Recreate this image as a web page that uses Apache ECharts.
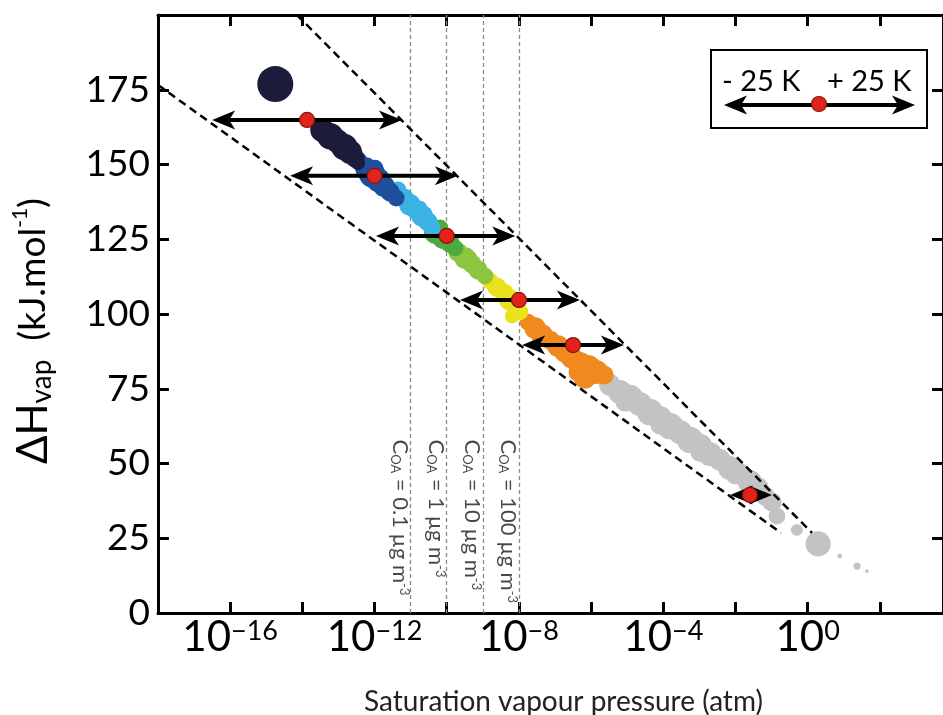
<!DOCTYPE html>
<html><head><meta charset="utf-8">
<script src="https://cdn.jsdelivr.net/npm/echarts/dist/echarts.min.js"></script>
<style>html,body{margin:0;padding:0;background:#fff}#c{width:943px;height:715px}</style>
</head><body><div id="c"></div>
<script>
// Each point: [log10(p_sat / atm), ΔHvap (kJ/mol), marker weight]
const navy = [[-14.75,176.9,30],[-13.45,161.5,20],[-13.23,159.5,22],[-13.04,157.9,20],[-12.84,155.9,22],[-12.68,154.2,20],[-12.54,152.2,16],[-12.46,150.5,12]];
const blue = [[-12.40,151.5,12],[-12.24,148.8,18],[-12.07,146.8,22],[-11.90,144.8,20],[-11.74,142.8,18],[-11.57,140.8,16],[-11.40,138.8,14],[-11.99,148.8,14]];
const lightBlue = [[-11.35,141.5,14],[-11.18,138.8,16],[-11.02,136.5,18],[-10.85,134.8,16],[-10.68,132.8,18],[-10.52,130.8,16],[-10.41,128.8,14],[-10.74,135.5,12]];
const green = [[-10.30,127.4,20],[-10.10,125.4,18],[-9.91,123.7,16],[-10.19,128.8,14],[-9.77,122.1,14]];
const lime = [[-9.69,120.7,16],[-9.49,118.7,18],[-9.30,116.7,16],[-9.13,114.7,16],[-8.94,112.7,14],[-9.35,118.7,12]];
const yellow = [[-8.80,111.0,14],[-8.61,109.0,16],[-8.41,107.0,16],[-8.25,104.7,18],[-8.08,102.7,16],[-7.97,100.7,14],[-8.19,99.3,12]];
const orange = [[-7.75,97.3,14],[-7.55,95.3,18],[-7.36,93.0,18],[-7.14,91.3,16],[-6.92,89.3,18],[-6.72,87.3,18],[-6.53,85.3,18],[-6.31,83.3,20],[-6.09,81.9,22],[-5.86,80.6,20],[-5.64,79.6,16],[-6.17,78.6,18],[-6.36,80.6,16]];
const gray = [[-5.48,76.3,18],[-5.20,73.9,20],[-4.92,71.9,22],[-4.65,69.9,20],[-4.37,67.2,22],[-4.09,65.2,20],[-3.81,62.5,22],[-3.54,60.5,20],[-3.26,57.9,22],[-2.98,55.9,20],[-2.71,53.2,20],[-2.43,51.2,18],[-2.15,48.5,20],[-1.88,46.5,18],[-1.60,43.8,20],[-1.38,41.8,18],[-1.18,39.1,16],[-0.99,37.1,16],[-0.85,32.4,14],[-0.30,27.8,10],[0.29,23.1,21],[0.89,19.1,4],[1.37,15.7,6],[1.64,14.0,3],[-0.97,35.8,3],[-5.06,70.6,16],[-4.09,62.9,16],[-2.98,53.8,16],[-2.02,45.8,14]];

// envelope lines [log10 p, ΔH]
const envelopeUpper = [[-14.15,200],[0.12,26.8]];
const envelopeLower = [[-18.0,176.6],[-0.74,26.8]];

// ±25 K arrows: [left log10 p, right log10 p, ΔH]
const arrows = [[-16.5,-11.24,164.9],[-14.34,-9.69,146.2],[-11.96,-8.10,126.1],[-9.63,-6.31,104.7],[-7.91,-5.09,89.6],[-2.15,-0.99,39.5]];
// central points [log10 p, ΔH]
const centres = [[-13.87,164.9],[-12.0,146.2],[-10.0,126.1],[-8.0,104.7],[-6.5,89.6],[-1.6,39.5]];

// C_OA reference lines
const coaX = [-11,-10,-9,-8];
const coaText = ['0.1','1','10','100'];
const coaLabelH = 58;

const xMin = -18, xMax = 3.75, xStep = 2, xLabelEvery = 4;
const yMin = 0, yMax = 200, yStep = 25;

const FONT = 'Lato';
const SIZE_SCALE = 1.2;
const chart = echarts.init(document.getElementById('c'), null, {renderer:'canvas'});

function groupSeries(name, data, color, z) {
  return {name, type:'scatter', data, z, symbolSize: v => v[2] * SIZE_SCALE,
    itemStyle:{color, opacity:1}, silent:true, animation:false};
}
function dashedLine(data) {
  return {type:'line', data, symbol:'none', z:13, animation:false, silent:true,
    lineStyle:{color:'#000', width:2.5, type:[8,5]}};
}
const axisLineStyle = {color:'#000', width:3};
const tickStyle = {inside:true, length:11, lineStyle:{width:3, color:'#000'}};

const option = {
  animation:false,
  backgroundColor:'#fff',
  grid:{left:158, right:0, top:15, bottom:102, containLabel:false, outerBoundsMode:'none'},
  xAxis:[{
    type:'value', min:xMin, max:xMax, interval:xStep, position:'bottom',
    splitLine:{show:false},
    axisLine:{onZero:false, lineStyle:axisLineStyle},
    axisTick:tickStyle,
    axisLabel:{margin:5, color:'#000',
      formatter: v => (v % xLabelEvery === 0) ? '{b|10}{s|' + (v < 0 ? '\u2212' + Math.abs(v) : v) + '}' : '',
      rich:{b:{fontFamily:FONT, fontSize:42, color:'#000', padding:[32,0,0,0], lineHeight:40, verticalAlign:'bottom'},
            s:{fontFamily:FONT, fontSize:27, color:'#000', lineHeight:24, verticalAlign:'top'}}},
    name:'Saturation vapour pressure (atm)', nameLocation:'middle', nameGap:75,
    nameTextStyle:{fontFamily:FONT, fontSize:28, color:'#222', padding:[0,0,0,26]}
  },{
    type:'value', min:xMin, max:xMax, interval:xStep, position:'top',
    splitLine:{show:false}, axisLabel:{show:false},
    axisLine:{onZero:false, lineStyle:axisLineStyle},
    axisTick:tickStyle
  }],
  yAxis:[{
    type:'value', min:yMin, max:yMax, interval:yStep, position:'left',
    splitLine:{show:false},
    axisLine:{onZero:false, lineStyle:axisLineStyle},
    axisTick:tickStyle,
    axisLabel:{margin:8, color:'#000', fontFamily:FONT, fontSize:37,
      formatter: v => v === yMax ? '' : String(v)}
  },{
    type:'value', min:yMin, max:yMax, interval:yStep, position:'right',
    splitLine:{show:false}, axisLabel:{show:false},
    axisLine:{onZero:false, lineStyle:axisLineStyle},
    axisTick:tickStyle
  }],
  series:[
    // C_OA vertical lines
    {type:'line', data:[], silent:true, z:2,
      markLine:{silent:true, symbol:'none', animation:false, label:{show:false},
        lineStyle:{color:'#8a8a8a', width:1.3, type:[4,3]},
        data: coaX.map(x => ({xAxis:x}))}},
    {type:'scatter', silent:true, z:3, symbolSize:1, itemStyle:{color:'transparent'},
      data: coaX.map((x,i) => [x, coaLabelH, coaText[i]]),
      label:{show:true, position:'inside', rotate:-90, align:'left', verticalAlign:'top', offset:[0,0],
        formatter: p => '{t|C}{sub|OA}{t| = ' + p.value[2] + ' \u00b5g m}{sup|-3}',
        rich:{t:{fontFamily:FONT, fontSize:22, color:'#1a1a1a', lineHeight:22, verticalAlign:'middle'},
              sub:{fontFamily:FONT, fontSize:13, color:'#1a1a1a', lineHeight:12, verticalAlign:'bottom'},
              sup:{fontFamily:FONT, fontSize:13, color:'#1a1a1a', lineHeight:12, verticalAlign:'top'}}}},
    groupSeries('gray', gray, '#c3c3c3', 5),
    groupSeries('orange', orange, '#f08a1e', 6),
    groupSeries('yellow', yellow, '#e9e21c', 7),
    groupSeries('lime', lime, '#8cc540', 8),
    groupSeries('green', green, '#4caa3e', 9),
    groupSeries('lightBlue', lightBlue, '#3bb3e5', 10),
    groupSeries('blue', blue, '#1f4f9c', 11),
    groupSeries('navy', navy, '#1b1b3a', 12),
    dashedLine(envelopeUpper),
    dashedLine(envelopeLower),
    {type:'custom', data:arrows, z:14, silent:true, animation:false,
      encode:{x:[0,1], y:2},
      renderItem:function(params, api){
        const y = api.value(2);
        const a = api.coord([api.value(0), y]);
        const b = api.coord([api.value(1), y]);
        const L = 23, W = 9.5, N = 17;
        return {type:'group', children:[
          {type:'line', shape:{x1:a[0]+N, y1:a[1], x2:b[0]-N, y2:b[1]}, style:{stroke:'#000', lineWidth:4}},
          {type:'polygon', shape:{points:[[a[0],a[1]],[a[0]+L,a[1]-W],[a[0]+N,a[1]],[a[0]+L,a[1]+W]]}, style:{fill:'#000'}},
          {type:'polygon', shape:{points:[[b[0],b[1]],[b[0]-L,b[1]-W],[b[0]-N,b[1]],[b[0]-L,b[1]+W]]}, style:{fill:'#000'}}
        ]};
      }},
    {type:'scatter', data:centres, z:15, symbolSize:15, silent:true,
      itemStyle:{color:'#e2231a', borderColor:'#8a1010', borderWidth:1.2, opacity:1}}
  ],
  graphic:[
    {type:'text', left:10, top:198, rotation:Math.PI/2, z:20,
      style:{text:'{d|\u0394H}{s|vap}{n|  (kJ.mol}{p|-1}{n|)}', fill:'#000',
        rich:{d:{fontFamily:FONT, fontSize:42, fill:'#000', verticalAlign:'middle', lineHeight:46},
              s:{fontFamily:FONT, fontSize:28, fill:'#000', verticalAlign:'bottom', lineHeight:24},
              n:{fontFamily:FONT, fontSize:37, fill:'#000', verticalAlign:'middle', lineHeight:46},
              p:{fontFamily:FONT, fontSize:21, fill:'#000', verticalAlign:'top', lineHeight:22}}}},
    {type:'group', z:20, children:[
      {type:'rect', shape:{x:711, y:50, width:216, height:78}, style:{fill:'#fff', stroke:'#000', lineWidth:2}},
      {type:'text', x:722, y:82, style:{text:'- 25 K', font:'29px Lato', fill:'#000', verticalAlign:'middle'}},
      {type:'text', x:827, y:82, style:{text:'+ 25 K', font:'29px Lato', fill:'#000', verticalAlign:'middle'}},
      {type:'line', shape:{x1:740, y1:105, x2:899, y2:105}, style:{stroke:'#000', lineWidth:4}},
      {type:'polygon', shape:{points:[[724,105],[747,95.5],[741,105],[747,114.5]]}, style:{fill:'#000'}},
      {type:'polygon', shape:{points:[[915,105],[892,95.5],[898,105],[892,114.5]]}, style:{fill:'#000'}},
      {type:'circle', shape:{cx:819, cy:104, r:7.5}, style:{fill:'#e2231a', stroke:'#8a1010', lineWidth:1.2}}
    ]}
  ]
};
chart.setOption(option);
</script></body></html>
